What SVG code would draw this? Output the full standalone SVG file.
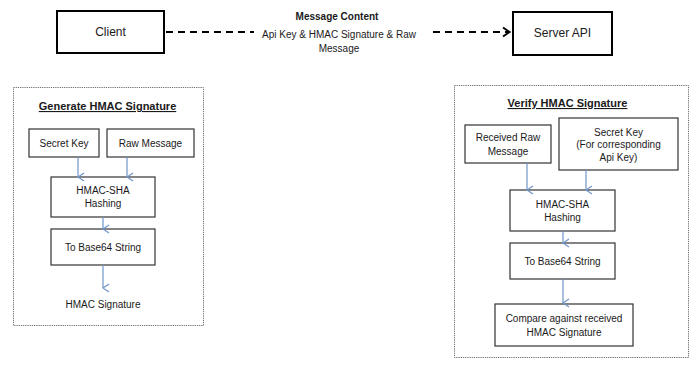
<svg xmlns="http://www.w3.org/2000/svg" width="700" height="368" viewBox="0 0 700 368">
  <defs>
    <style>
      .txt { font-family: "Liberation Sans", Arial, sans-serif; font-size: 10px; fill: #1a1a1a; text-anchor: middle; }
      .big { font-size: 12px; }
      .bold { font-weight: bold; }
      .title { font-weight: bold; font-size: 11px; text-decoration: underline; }
      .endpoint { fill: #ffffff; stroke: #000000; stroke-width: 2; }
      .step { fill: #ffffff; stroke: #333333; stroke-width: 1.2; }
      .panel { fill: none; stroke: #6b6b6b; stroke-width: 1; stroke-dasharray: 1.2 1; }
      .flow { fill: none; stroke: #6f95c9; stroke-width: 1.2; marker-end: url(#vhead); }
      .msg { fill: none; stroke: #000000; stroke-width: 2; stroke-dasharray: 7 5; }
    </style>
    <marker id="vhead" viewBox="0 0 10 10" refX="5" refY="9" markerWidth="10" markerHeight="10" markerUnits="userSpaceOnUse" orient="auto-start-reverse">
      <path d="M1 3 L5 9 L9 3" fill="none" stroke="#6f95c9" stroke-width="1.2"/>
    </marker>
  </defs>
  <rect width="700" height="368" fill="#ffffff"/>

  <!-- endpoints -->
  <g id="client">
    <rect class="endpoint" x="57" y="11" width="107" height="42"/>
    <text class="txt big" x="110.5" y="36">Client</text>
  </g>
  <g id="server-api">
    <rect class="endpoint" x="513" y="12" width="99" height="43"/>
    <text class="txt big" x="562.5" y="37">Server API</text>
  </g>

  <!-- request label -->
  <g id="message-label">
    <text class="txt bold" x="337" y="20">Message Content</text>
    <text class="txt" x="339" y="38">Api Key &amp; HMAC Signature &amp; Raw</text>
    <text class="txt" x="339" y="52">Message</text>
  </g>

  <!-- panels -->
  <g id="generate-panel">
    <rect class="panel" x="13.5" y="87.5" width="190" height="238"/>
    <text class="txt title" x="107.5" y="110">Generate HMAC Signature</text>
  </g>
  <g id="verify-panel">
    <rect class="panel" x="454.5" y="85.5" width="234" height="272"/>
    <text class="txt title" x="567.5" y="107">Verify HMAC Signature</text>
  </g>

  <!-- generate side steps -->
  <g id="gen-secret-key">
    <rect class="step" x="29" y="129" width="70" height="28"/>
    <text class="txt" x="64" y="146.5">Secret Key</text>
  </g>
  <g id="gen-raw-message">
    <rect class="step" x="107" y="129" width="87" height="28"/>
    <text class="txt" x="150.5" y="146.5">Raw Message</text>
  </g>
  <g id="gen-hashing">
    <rect class="step" x="51" y="177" width="104" height="40"/>
    <text class="txt" x="103" y="194">HMAC-SHA</text>
    <text class="txt" x="103" y="207">Hashing</text>
  </g>
  <g id="gen-base64">
    <rect class="step" x="51" y="229" width="104" height="36"/>
    <text class="txt" x="103" y="250.5">To Base64 String</text>
  </g>
  <g id="gen-output">
    <text class="txt" x="103" y="307.5">HMAC Signature</text>
  </g>

  <!-- verify side steps -->
  <g id="ver-raw-message">
    <rect class="step" x="465" y="125" width="86" height="38"/>
    <text class="txt" x="508" y="141">Received Raw</text>
    <text class="txt" x="508" y="155">Message</text>
  </g>
  <g id="ver-secret-key">
    <rect class="step" x="559" y="118" width="119" height="52"/>
    <text class="txt" x="618.5" y="135.5">Secret Key</text>
    <text class="txt" x="618.5" y="148">(For corresponding</text>
    <text class="txt" x="618.5" y="161">Api Key)</text>
  </g>
  <g id="ver-hashing">
    <rect class="step" x="510" y="190" width="105" height="41"/>
    <text class="txt" x="562.5" y="207.5">HMAC-SHA</text>
    <text class="txt" x="562.5" y="221">Hashing</text>
  </g>
  <g id="ver-base64">
    <rect class="step" x="510" y="243" width="105" height="36"/>
    <text class="txt" x="562.5" y="265">To Base64 String</text>
  </g>
  <g id="ver-compare">
    <rect class="step" x="495" y="304" width="138" height="42"/>
    <text class="txt" x="564" y="321.5">Compare against received</text>
    <text class="txt" x="564" y="335.5">HMAC Signature</text>
  </g>

  <!-- connectors -->
  <g id="connectors">
    <line class="msg" x1="166" y1="32" x2="254" y2="32"/>
    <line class="msg" x1="433" y1="32" x2="508" y2="32"/>
    <path d="M503 27.5 L509.5 32 L503 36.5" fill="none" stroke="#000000" stroke-width="2"/>

    <line class="flow" x1="78" y1="157" x2="78" y2="177"/>
    <line class="flow" x1="127" y1="157" x2="127" y2="177"/>
    <line class="flow" x1="103" y1="217" x2="103" y2="229"/>
    <line class="flow" x1="103" y1="265" x2="103" y2="288"/>

    <line class="flow" x1="527" y1="163" x2="527" y2="190"/>
    <line class="flow" x1="586" y1="170" x2="586" y2="190"/>
    <line class="flow" x1="563" y1="231" x2="563" y2="243"/>
    <line class="flow" x1="563" y1="279" x2="563" y2="303"/>
  </g>
</svg>
